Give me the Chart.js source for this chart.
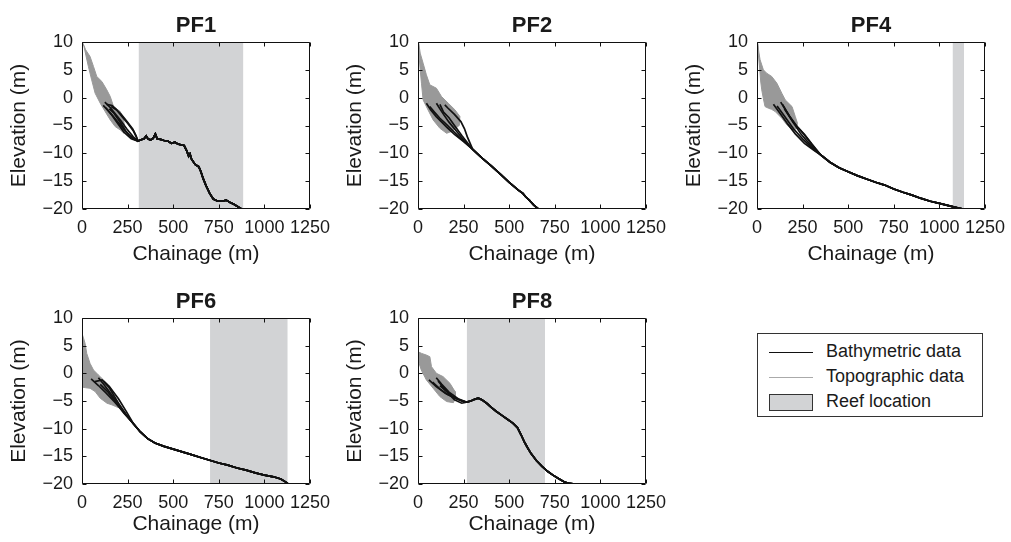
<!DOCTYPE html>
<html>
<head>
<meta charset="utf-8">
<script src="https://cdn.jsdelivr.net/npm/chart.js@4.4.0/dist/chart.umd.min.js"></script>
<style>
  body { margin: 0; background: #fff; font-family: "Liberation Sans", Arial, sans-serif; }
  #wrap { position: relative; width: 1011px; height: 542px; overflow: hidden; }
  canvas { position: absolute; }
  #legend { position: absolute; left: 757px; top: 333px; width: 224px; height: 82px; border: 1px solid #333; color: #1a1a1a; font-size: 18px; }
  #legend .row { position: absolute; left: 0; height: 20px; width: 100%; }
  #legend .ln { position: absolute; left: 11px; top: 10px; width: 44px; height: 0; }
  #legend .sw { position: absolute; left: 11px; top: 2px; width: 42px; height: 15px; background: #d2d3d5; border: 1px solid #333; }
  #legend .tx { position: absolute; left: 68px; top: -1px; white-space: nowrap; }
</style>
</head>
<body>
<div id="wrap">
  <canvas id="pf1" width="338" height="270" style="left:0px;top:0px"></canvas>
  <canvas id="pf2" width="338" height="270" style="left:336px;top:0px"></canvas>
  <canvas id="pf4" width="338" height="270" style="left:675px;top:0px"></canvas>
  <canvas id="pf6" width="338" height="270" style="left:0px;top:272px"></canvas>
  <canvas id="pf8" width="338" height="270" style="left:336px;top:272px"></canvas>
  <div id="legend">
    <div class="row" style="top:8px"><span class="ln" style="border-top:1.3px solid #111"></span><span class="tx">Bathymetric data</span></div>
    <div class="row" style="top:33px"><span class="ln" style="border-top:1px solid #aaa"></span><span class="tx">Topographic data</span></div>
    <div class="row" style="top:58px"><span class="sw"></span><span class="tx">Reef location</span></div>
  </div>
</div>
<script>
// axis ticks (same for every panel)
const xTicks = [0, 250, 500, 750, 1000, 1250];
const yTicks = [-20, -15, -10, -5, 0, 5, 10];

// ---------- PF1 ----------
const pf1Reef = [310, 885];
const pf1TopoUp = [[5,9.8],[20,8.6],[44,7.4],[63,5.6],[81,3.8],[109,2.9],[136,1.4],[155,0.2],[173,-1.6],[210,-2.5],[228,-4.0],[235,-5.5],[230,-6.4]];
const pf1TopoLo = [[5,9.6],[11,9.2],[22,7.5],[35,5.6],[53,3.2],[72,0.8],[100,-1],[127,-2.5],[155,-4],[182,-5.2],[210,-5.8],[230,-6.4]];
const pf1Heads = [
  [[116,-1.4],[140,-2.2],[170,-3.3],[200,-4.5],[230,-5.7],[260,-6.8],[306,-7.8]],
  [[125,-0.8],[150,-1.6],[180,-2.8],[210,-4.0],[245,-5.6],[280,-7.0],[306,-7.8]],
  [[135,-1.2],[165,-1.4],[185,-2.0],[220,-3.4],[250,-4.6],[282,-6.0],[300,-7.2],[306,-7.8]],
  [[150,-2.0],[175,-2.8],[205,-4.2],[240,-6.0],[275,-7.3],[306,-7.8]],
  [[160,-1.6],[190,-2.2],[215,-3.0],[250,-4.4],[278,-5.6],[296,-6.8],[306,-7.8]],
  [[130,-1.8],[160,-3.0],[195,-4.6],[230,-6.2],[270,-7.4],[306,-7.8]]
];
const pf1Tail = [[306,-7.8],[320,-7.6],[340,-7.4],[352,-6.9],[362,-7.4],[375,-7.6],[390,-7.3],[402,-6.5],[412,-7.4],[430,-7.5],[450,-7.7],[470,-7.8],[490,-8.2],[510,-8.0],[525,-8.3],[545,-8.5],[560,-8.6],[575,-9.6],[585,-10.5],[592,-10.1],[600,-11],[620,-12],[640,-12.4],[652,-13.3],[665,-14.6],[680,-15.8],[700,-17.2],[720,-18.2],[745,-18.6],[770,-18.6],[790,-18.4],[810,-18.8],[835,-19.2],[855,-19.6],[875,-20]];

// ---------- PF2 ----------
const pf2Reef = null;
const pf2TopoUp = [[4,9.8],[12,8],[28,6.2],[46,4.1],[65,2.3],[101,1.7],[129,0.2],[166,-1],[203,-2.2],[230,-3.4],[225,-5]];
const pf2TopoLo = [[4,9.6],[6,7.4],[12,5],[19,2.6],[28,-0.4],[55,-2.2],[83,-4],[120,-5.5],[157,-6.4],[190,-6],[225,-5]];
const pf2Heads = [
  [[46,-1.0],[70,-2.2],[100,-3.4],[130,-4.4],[160,-5.4],[200,-6.6],[250,-7.9],[300,-9.3]],
  [[64,-1.6],[90,-2.6],[120,-3.7],[150,-4.6],[190,-5.9],[240,-7.5],[300,-9.3]],
  [[101,-1.0],[120,-2.0],[140,-3.0],[170,-4.4],[210,-6.0],[250,-7.6],[300,-9.3]],
  [[147,-1.3],[165,-1.9],[200,-3.0],[235,-4.3],[255,-5.6],[270,-7],[300,-9.3]],
  [[120,-1.2],[140,-2.6],[170,-3.6],[200,-5],[240,-6.8],[300,-9.3]]
];
const pf2Tail = [[300,-9.3],[350,-10.8],[400,-12.2],[450,-13.7],[500,-15.2],[550,-16.6],[575,-17.2],[590,-17.8],[610,-18.4],[635,-19.3],[660,-20]];

// ---------- PF4 ----------
const pf4Reef = [1072, 1135];
const pf4TopoUp = [[4,9.8],[10,8.2],[17,6.8],[35,5],[53,4.4],[81,3.8],[109,2.6],[136,0.8],[155,-0.4],[192,-1.6],[210,-3.4],[222,-4.6],[215,-5.6]];
const pf4TopoLo = [[4,9.6],[8,7.5],[14,5.5],[20,3],[26,1.4],[35,-0.2],[44,-1.6],[63,-1.9],[80,-2.1],[100,-2.5],[136,-3.7],[164,-4.9],[192,-5.8],[215,-5.6]];
const pf4Heads = [
  [[90,-1.2],[130,-3],[170,-4.8],[210,-6.5],[260,-8.2],[310,-9.4],[350,-10.3]],
  [[110,-1.5],[150,-3.3],[200,-5.6],[250,-7.4],[300,-9],[350,-10.3]],
  [[130,-0.8],[160,-2.4],[200,-4.5],[240,-5.9],[280,-7.5],[320,-9.2],[350,-10.3]],
  [[140,-1.2],[180,-3.4],[220,-5.2],[260,-6.6],[300,-8.3],[350,-10.3]],
  [[150,-2],[190,-4],[240,-6.5],[290,-8.4],[340,-10.0],[350,-10.3]]
];
const pf4Tail = [[350,-10.3],[400,-11.6],[450,-12.6],[500,-13.3],[550,-14.0],[600,-14.6],[650,-15.2],[700,-15.7],[750,-16.4],[800,-17.0],[850,-17.5],[900,-18.1],[950,-18.6],[1000,-19.0],[1050,-19.4],[1100,-19.8],[1130,-20]];

// ---------- PF6 ----------
const pf6Reef = [702, 1128];
const pf6TopoUp = [[2,7.0],[8,6.4],[17,5.4],[26,3.6],[44,1.8],[63,0.6],[90,-0.3],[118,-1.2],[146,-2.1],[164,-3.0],[173,-4.5],[190,-5.6],[200,-6.2]];
const pf6TopoLo = [[2,6.8],[2,-2.5],[20,-2.6],[44,-2.7],[72,-3.3],[100,-4.5],[137,-5.4],[164,-5.7],[185,-6.0],[200,-6.2]];
const pf6Heads = [
  [[50,-1.0],[90,-2.2],[130,-3.5],[180,-5.2],[230,-7.1],[282,-9.1]],
  [[70,-1.5],[110,-1.2],[150,-2.4],[200,-4.6],[245,-7.0],[282,-9.1]],
  [[90,-0.8],[120,-2.0],[160,-3.8],[210,-6.0],[250,-7.8],[282,-9.1]],
  [[100,-2.0],[140,-3.3],[180,-5.0],[230,-7.2],[282,-9.1]],
  [[120,-1.5],[150,-2.6],[200,-5.4],[240,-7.4],[282,-9.1]]
];
const pf6Tail = [[282,-9.1],[320,-10.6],[360,-11.8],[400,-12.6],[450,-13.2],[500,-13.7],[550,-14.2],[600,-14.7],[650,-15.2],[700,-15.7],[750,-16.2],[800,-16.6],[850,-17.1],[900,-17.5],[950,-18.0],[1000,-18.4],[1050,-18.7],[1090,-19.1],[1120,-19.7],[1130,-20]];

// ---------- PF8 ----------
const pf8Reef = [267, 697];
const pf8TopoUp = [[0,3.9],[20,3.6],[46,3.3],[65,3.0],[74,1.2],[101,0],[138,-0.6],[175,-1.8],[203,-3.3],[205,-4.5],[194,-5.3]];
const pf8TopoLo = [[0,3.7],[0,2.4],[18,0.6],[46,-1.2],[83,-2.7],[120,-4.2],[157,-5.1],[194,-5.3]];
const pf8Heads = [
  [[60,-1.2],[100,-2.4],[150,-3.6],[200,-4.4],[240,-5.0],[265,-5.2]],
  [[80,-1.6],[120,-2.8],[160,-3.8],[210,-4.6],[265,-5.2]],
  [[100,-0.8],[130,-2.0],[170,-3.4],[220,-4.6],[265,-5.2]],
  [[110,-1.4],[150,-3.0],[190,-4.2],[240,-5.0],[265,-5.2]],
  [[120,-2.2],[160,-3.4],[200,-4.8],[240,-5.4],[265,-5.2]]
];
const pf8Tail = [[265,-5.2],[290,-5.0],[310,-4.7],[330,-4.5],[345,-4.7],[360,-5.0],[380,-5.5],[400,-6.1],[430,-6.9],[460,-7.6],[490,-8.3],[520,-9.0],[545,-9.8],[565,-11.1],[585,-12.5],[600,-13.4],[620,-14.5],[650,-15.8],[680,-16.8],[710,-17.7],[740,-18.4],[770,-19.0],[800,-19.6],[830,-19.9],[860,-20],[910,-20]];

Chart.defaults.font.family = '"Liberation Sans", Arial, sans-serif';
Chart.defaults.color = '#1a1a1a';

const pts = arr => arr.map(p => ({x: p[0], y: p[1]}));

// box, inward tick marks and panel title (matlab look)
const framePlugin = {
  id: 'frame',
  afterDraw(chart, args, opts) {
    const {ctx, chartArea: a, scales} = chart;
    const l = Math.round(a.left) + 0.5, r = Math.round(a.right) - 0.5;
    const t = Math.round(a.top) + 0.5, b = Math.round(a.bottom) - 0.5;
    ctx.save();
    ctx.strokeStyle = '#111';
    ctx.lineWidth = 1;
    ctx.beginPath();
    ctx.rect(l, t, r - l, b - t);
    xTicks.forEach(v => {
      const px = Math.round(scales.x.getPixelForValue(v)) + 0.5;
      ctx.moveTo(px, b); ctx.lineTo(px, b - 4);
      ctx.moveTo(px, t); ctx.lineTo(px, t + 4);
    });
    yTicks.forEach(v => {
      const py = Math.round(scales.y.getPixelForValue(v)) + 0.5;
      ctx.moveTo(l, py); ctx.lineTo(l + 4, py);
      ctx.moveTo(r, py); ctx.lineTo(r - 4, py);
    });
    ctx.stroke();
    ctx.fillStyle = '#1a1a1a';
    ctx.font = 'bold 22px "Liberation Sans", Arial, sans-serif';
    ctx.textAlign = 'center';
    ctx.textBaseline = 'alphabetic';
    ctx.fillText(opts.title, (a.left + a.right) / 2, a.top - 10);
    ctx.restore();
  }
};

function makePanel(id, title, reef, topoUp, topoLo, heads, tail, row) {
  const datasets = [];
  if (reef) {
    datasets.push({
      data: pts([[reef[0], 10], [reef[1], 10]]),
      borderWidth: 0, borderColor: 'rgba(0,0,0,0)',
      backgroundColor: '#d2d3d5', fill: 'start', order: 3
    });
  }
  datasets.push({
    data: pts(topoUp.concat(topoLo.slice().reverse())),
    borderColor: '#999', borderWidth: 1,
    backgroundColor: '#999', fill: 'shape', order: 2
  });
  heads.forEach(h => {
    datasets.push({
      data: pts(h.concat(tail.slice(1))),
      borderColor: '#111', borderWidth: 1.7, fill: false, order: 1
    });
  });

  const padTop = row === 0 ? 42 : 46;
  const xH = row === 0 ? 61 : 58;
  const xTitlePad = row === 0 ? 3 : 5;

  new Chart(document.getElementById(id), {
    type: 'line',
    data: { datasets },
    options: {
      responsive: false,
      animation: false,
      events: [],
      devicePixelRatio: 1,
      layout: { padding: { left: 0, top: padTop, right: 22, bottom: 0 } },
      elements: { point: { radius: 0 }, line: { tension: 0 } },
      plugins: { legend: { display: false }, tooltip: { enabled: false }, frame: { title } },
      scales: {
        x: {
          type: 'linear', min: 0, max: 1250,
          afterFit: s => { s.height = xH; },
          afterBuildTicks: s => { s.ticks = xTicks.map(v => ({value: v})); },
          grid: { display: false, drawTicks: false },
          border: { display: false },
          ticks: { font: { size: 18 }, padding: 8, maxRotation: 0, autoSkip: false, callback: v => String(v) },
          title: { display: true, text: 'Chainage (m)', font: { size: 21 }, padding: { top: 0, bottom: xTitlePad } }
        },
        y: {
          type: 'linear', min: -20, max: 10,
          afterFit: s => { s.width = 82; },
          afterBuildTicks: s => { s.ticks = yTicks.map(v => ({value: v})); },
          grid: { display: false, drawTicks: false },
          border: { display: false },
          ticks: { font: { size: 18 }, padding: 9, callback: v => v < 0 ? '\u2212' + Math.abs(v) : String(v) },
          title: { display: true, text: 'Elevation (m)', font: { size: 21 }, padding: { top: 7, bottom: 0 } }
        }
      }
    },
    plugins: [framePlugin]
  });
}

makePanel('pf1', 'PF1', pf1Reef, pf1TopoUp, pf1TopoLo, pf1Heads, pf1Tail, 0);
makePanel('pf2', 'PF2', pf2Reef, pf2TopoUp, pf2TopoLo, pf2Heads, pf2Tail, 0);
makePanel('pf4', 'PF4', pf4Reef, pf4TopoUp, pf4TopoLo, pf4Heads, pf4Tail, 0);
makePanel('pf6', 'PF6', pf6Reef, pf6TopoUp, pf6TopoLo, pf6Heads, pf6Tail, 1);
makePanel('pf8', 'PF8', pf8Reef, pf8TopoUp, pf8TopoLo, pf8Heads, pf8Tail, 1);
</script>
</body>
</html>
